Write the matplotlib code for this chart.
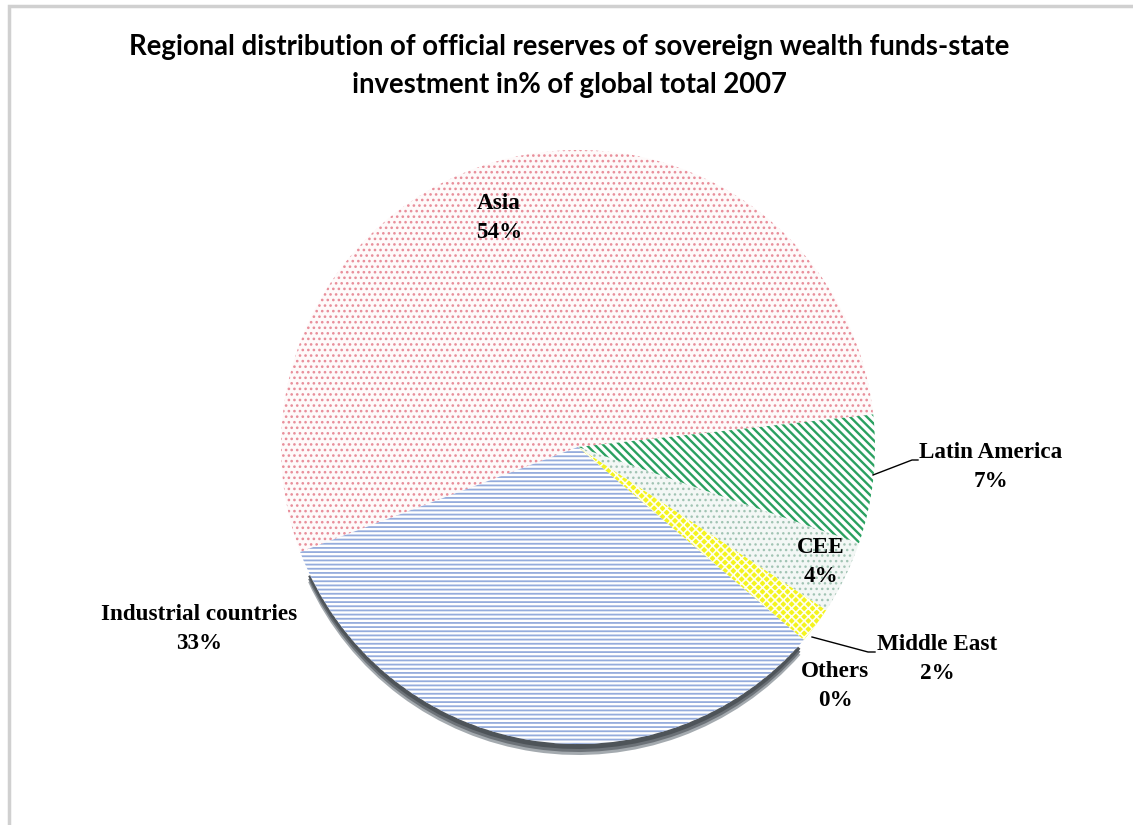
import matplotlib
matplotlib.use("Agg")
import matplotlib.pyplot as plt
from matplotlib.patches import Wedge, Rectangle
from matplotlib.lines import Line2D

# Data
regions = ["Asia", "Industrial countries", "Others", "Middle East", "CEE", "Latin America"]
shares = [54, 33, 0, 2, 4, 7]
label_text = ["Asia\n54%", "Industrial countries\n33%", "Others\n0%",
              "Middle East\n2%", "CEE\n4%", "Latin America\n7%"]

W, H = 1133, 825
fig = plt.figure(figsize=(W / 100, H / 100), dpi=100)
ax = fig.add_axes([0, 0, 1, 1])


def Y(y):
    return H - y


cx, cy, R = 578, Y(447), 297

# fill colours, hatch colours and hatch patterns per region
fills = ["#fefafa", "#ffffff", "#ffffff", "#f4f41e", "#f3f7f5", "#ffffff"]
hcols = ["#e88e9a", "#95acdc", "#888888", "#fffff0", "#a2c4b4", "#2aa060"]
hatches = ["...", "----", "", "xxxx", "...", "\\\\\\\\"]
hwidths = [1.1, 1.3, 1.0, 1.2, 1.0, 1.7]

wedges, _ = ax.pie(shares, startangle=6.3, counterclock=True, center=(cx, cy),
                   radius=R, colors=fills, wedgeprops=dict(linewidth=0),
                   frame=True)
ax.set_xlim(0, W)
ax.set_ylim(0, H)
ax.set_aspect("equal")
ax.axis("off")

# chart frame
ax.add_patch(Rectangle((9, -10), W + 20, Y(6) + 10, fill=False,
                       edgecolor="#d0d0d0", linewidth=2.5, zorder=0))

for w, hc, ht, hw in zip(wedges, hcols, hatches, hwidths):
    w.set_zorder(2)
    if ht:
        hp = Wedge(w.center, w.r, w.theta1, w.theta2, facecolor="none",
                   edgecolor=hc, hatch=ht, linewidth=0, zorder=3)
        try:
            hp.set_hatch_linewidth(hw)
        except AttributeError:
            pass
        ax.add_patch(hp)

# shadow under the industrial countries slice
ind = wedges[1]
for off, col in [(11, "#a4aaaf"), (8, "#6c7278"), (5, "#4e5459")]:
    ax.add_patch(Wedge((ind.center[0], ind.center[1] - off), ind.r, ind.theta1 + 4,
                       ind.theta2 - 1, facecolor=col, linewidth=0, zorder=1))

# labels
lab_pos = {
    "Asia": (499, 218),
    "Industrial countries": (199, 629),
    "Others": (835, 686),
    "Middle East": (937, 659),
    "CEE": (821, 562),
    "Latin America": (991, 467),
}
for name, txt in zip(regions, label_text):
    x, y = lab_pos[name]
    ax.text(x, Y(y), txt, ha="center", va="center", multialignment="center",
            fontsize=16.7, fontweight="bold", family="Liberation Serif",
            linespacing=1.5, zorder=5)

# leader lines
for pts in [[(873, 475), (912, 460), (918, 460)],
            [(812, 637), (868, 652), (875, 652)]]:
    xs = [p[0] for p in pts]
    ys = [Y(p[1]) for p in pts]
    ax.add_line(Line2D(xs, ys, color="black", linewidth=1.0, zorder=5))

# title
ax.text(569, Y(66), "Regional distribution of official reserves of sovereign wealth funds-state\n"
        "investment in% of global total 2007", ha="center", va="center",
        multialignment="center", fontsize=19.8, fontweight="bold", family="Lato",
        linespacing=1.55, zorder=5)

fig.savefig("out.png", dpi=100)
